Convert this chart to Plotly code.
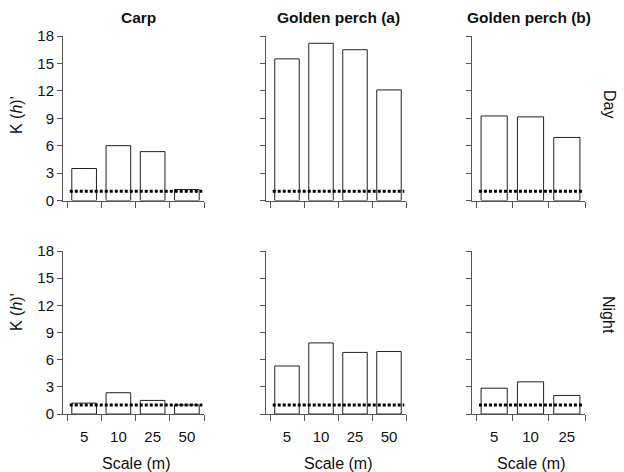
import plotly.graph_objects as go

# ---------------- data ----------------
scales_4 = ["5", "10", "25", "50"]
scales_3 = ["5", "10", "25"]

carp_day = [3.5, 6.0, 5.35, 1.2]
gpa_day = [15.5, 17.2, 16.5, 12.1]
gpb_day = [9.25, 9.15, 6.9]

carp_night = [1.2, 2.35, 1.5, 1.0]
gpa_night = [5.3, 7.85, 6.8, 6.9]
gpb_night = [2.85, 3.55, 2.05]

reference_level = 1.0

panel_titles = ["Carp", "Golden perch (a)", "Golden perch (b)"]
row_labels = ["Day", "Night"]
y_ticks = [0, 3, 6, 9, 12, 15, 18]

# ---------------- layout helpers ----------------
W, H = 624, 472
FONT = "Liberation Sans, Arial, Helvetica, sans-serif"
AX = "#555555"
BAR_LINE = "#222222"

# pixel geometry: (axis x, first boundary x, last boundary x)
cols_px = [(63, 67, 204), (266, 270, 406), (472, 476, 585)]
rows_px = [(36, 200.5), (251, 414)]

panels = [
    (0, 0, scales_4, carp_day),
    (0, 1, scales_4, gpa_day),
    (0, 2, scales_3, gpb_day),
    (1, 0, scales_4, carp_night),
    (1, 1, scales_4, gpa_night),
    (1, 2, scales_3, gpb_night),
]

fig = go.Figure()
layout = {}
shapes = []

for i, (r, c, cats, vals) in enumerate(panels):
    n = i + 1
    xname = "x" if n == 1 else f"x{n}"
    yname = "y" if n == 1 else f"y{n}"
    xkey = "xaxis" if n == 1 else f"xaxis{n}"
    ykey = "yaxis" if n == 1 else f"yaxis{n}"

    ax_x, b0, b1 = cols_px[c]
    ncat = len(cats)
    unit = (b1 - b0) / ncat
    left_units = -0.5 - (b0 - ax_x) / unit
    top, bot = rows_px[r]

    fig.add_trace(go.Bar(
        x=cats, y=vals, xaxis=xname, yaxis=yname,
        width=0.72,
        marker=dict(color="white", line=dict(color=BAR_LINE, width=1)),
        showlegend=False, hoverinfo="x+y",
    ))

    layout[xkey] = dict(
        domain=[ax_x / W, b1 / W],
        anchor=yname,
        type="category",
        categoryorder="array", categoryarray=cats,
        range=[left_units, ncat - 0.5],
        showline=True, linecolor=AX, linewidth=1,
        ticks="outside", tickson="boundaries", ticklen=6,
        tickcolor=AX, tickwidth=1,
        showgrid=False, zeroline=False,
        showticklabels=(r == 1),
        tickfont=dict(family=FONT, size=15, color="#111111"),
        ticklabelstandoff=9,
        automargin=False,
        fixedrange=True,
    )
    layout[ykey] = dict(
        domain=[1 - bot / H, 1 - top / H],
        anchor=xname,
        range=[0, 18],
        tickvals=y_ticks,
        showline=True, linecolor=AX, linewidth=1,
        ticks="outside", ticklen=5, tickcolor=AX, tickwidth=1,
        showgrid=False, zeroline=False,
        showticklabels=(c == 0),
        tickfont=dict(family=FONT, size=15, color="#111111"),
        automargin=False,
        fixedrange=True,
    )

    shapes.append(dict(
        type="line", xref=xname, yref=yname,
        x0=-0.42, x1=ncat - 0.55, y0=reference_level, y1=reference_level,
        line=dict(color="#000000", width=3, dash="3px,2px"),
    ))

annotations = []
title_x = [138, 338, 529]
for t, xpx in zip(panel_titles, title_x):
    annotations.append(dict(
        text=f"<b>{t}</b>", x=xpx / W, y=1 - 17 / H, xref="paper", yref="paper",
        showarrow=False, xanchor="center", yanchor="middle",
        font=dict(family=FONT, size=15.5, color="#111111"),
    ))

for lab, ypx in zip(row_labels, [104, 315]):
    annotations.append(dict(
        text=lab, x=609 / W, y=1 - ypx / H, xref="paper", yref="paper",
        showarrow=False, textangle=90, xanchor="center", yanchor="middle",
        font=dict(family=FONT, size=16, color="#111111"),
    ))

for ypx in [115, 312]:
    annotations.append(dict(
        text="K (<i>h</i>)'", x=16 / W, y=1 - ypx / H, xref="paper", yref="paper",
        showarrow=False, textangle=-90, xanchor="center", yanchor="middle",
        font=dict(family=FONT, size=16, color="#111111"),
    ))

for c in range(3):
    ax_x, b0, b1 = cols_px[c]
    annotations.append(dict(
        text="Scale (m)", x=(b0 + b1) / 2 / W, y=1 - 463 / H, xref="paper", yref="paper",
        showarrow=False, xanchor="center", yanchor="middle",
        font=dict(family=FONT, size=16, color="#111111"),
    ))

fig.update_layout(
    template="none",
    width=W, height=H,
    margin=dict(l=0, r=0, t=0, b=0, autoexpand=False),
    paper_bgcolor="white", plot_bgcolor="white",
    bargap=0.28,
    hovermode=False,
    shapes=shapes,
    annotations=annotations,
    **layout,
)

fig.write_html(
    "out.html",
    config={"displayModeBar": False, "staticPlot": True},
    post_script="document.body.style.margin='0';document.body.style.overflow='hidden';",
)
